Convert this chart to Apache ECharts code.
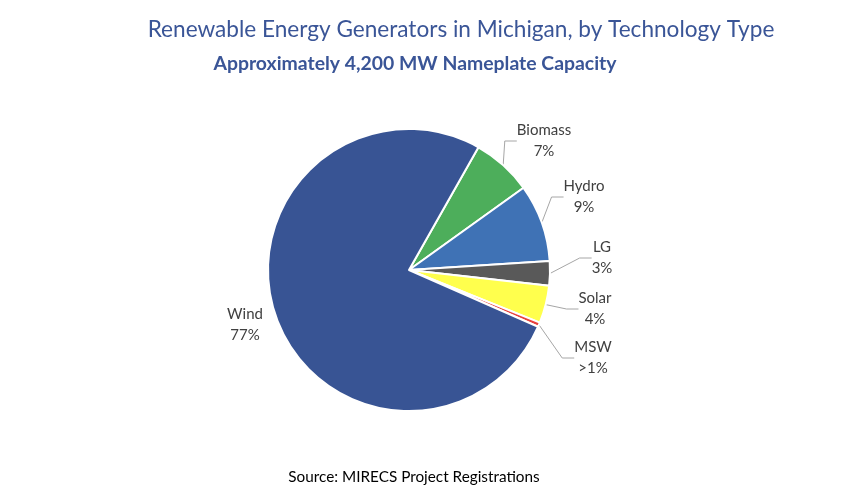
<!DOCTYPE html>
<html><head><meta charset="utf-8">
<script src="https://cdn.jsdelivr.net/npm/echarts@6/dist/echarts.min.js"></script>
<style>html,body{margin:0;padding:0;background:#fff}#c{width:841px;height:500px}</style>
</head><body><div id="c"></div>
<script>
const categories = ['Biomass','Hydro','LG','Solar','MSW','Wind'];
const values = [6.9, 8.9, 2.8, 4.3, 0.5, 76.6];
const pctLabels = ['7%','9%','3%','4%','>1%','77%'];
const colors = ['#4DAE5B','#3F72B5','#595959','#FFFF4D','#E8413C','#385494'];

// label anchor points (layout only)
const labelAnchors = [[544,141],[584,197],[602,258],[595,309],[593,358],[245,325]];

const chart = echarts.init(document.getElementById('c'));
chart.setOption({
  backgroundColor:'#fff',
  animation:false,
  title:[
    {text:'Renewable Energy Generators in Michigan, by Technology Type',left:456,top:13,textAlign:'center',
     textStyle:{fontFamily:'Lato',fontSize:22.6,fontWeight:'normal',color:'#3A5597'}},
    {text:'Approximately 4,200 MW Nameplate Capacity',left:410,top:49,textAlign:'center',
     textStyle:{fontFamily:'Lato',fontSize:19.4,fontWeight:'bold',color:'#3A5597'}},
    {text:'Source: MIRECS Project Registrations',left:409,top:465,textAlign:'center',
     textStyle:{fontFamily:'Lato',fontSize:15.3,fontWeight:'normal',color:'#000'}}
  ],
  series:[{
    type:'pie',
    center:[409,270],
    radius:141,
    startAngle:60.5,
    clockwise:true,
    avoidLabelOverlap:false,
    itemStyle:{borderColor:'#fff',borderWidth:2},
    label:{show:true,position:'outside',fontFamily:'Lato',fontSize:15,color:'#404040',lineHeight:21,align:'center',
      formatter:p=>p.name+'\n'+pctLabels[p.dataIndex]},
    labelLine:{show:true,length:14,length2:12,lineStyle:{color:'#A6A6A6',width:1}},
    labelLayout:p=>({x:labelAnchors[p.dataIndex][0],y:labelAnchors[p.dataIndex][1],align:'center',verticalAlign:'middle'}),
    data:categories.map((n,i)=>({name:n,value:values[i],itemStyle:{color:colors[i]},
      labelLine: n==='Wind'?{show:false}:undefined}))
  }]
});
</script></body></html>
